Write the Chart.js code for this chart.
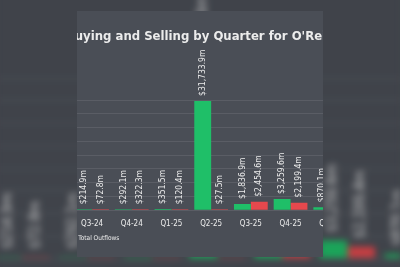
<!DOCTYPE html>
<html>
<head>
<meta charset="utf-8">
<script src="https://cdn.jsdelivr.net/npm/chart.js@4.4.1/dist/chart.umd.min.js"></script>
<style>
  html, body { margin: 0; padding: 0; }
  body { width: 400px; height: 267px; overflow: hidden; position: relative; background: #40444b; }
  .panel { position: absolute; left: 77px; top: 11px; width: 246px; height: 246px; overflow: hidden; background: #4a4e56; }
  .panel canvas { position: absolute; top: 0; }
  /* blurred, enlarged copy behind the card */
  #bg { left: -3.2px; top: -67.8px; transform-origin: 0 0; transform: scale(1.64); filter: blur(2px) brightness(0.86); }
</style>
</head>
<body>
<div class="panel" id="bg"><canvas id="bgChart"></canvas></div>
<div class="panel" id="fg"><canvas id="fgChart"></canvas></div>
<script>
// data
const quarters = ['Q3-24', 'Q4-24', 'Q1-25', 'Q2-25', 'Q3-25', 'Q4-25', 'Q1-26'];
const inflows = [214.9, 292.1, 351.5, 31733.9, 1836.9, 3259.6, 870.1];
const outflows = [72.8, 322.3, 120.4, 27.5, 2454.6, 2199.4, null];
const yMax = 32000;
const yStep = 4000;
const TITLE = "Institutional Buying and Selling by Quarter for O'Reilly Automotive";

// look
const FONT = "'DejaVu Sans Condensed', 'DejaVu Sans', sans-serif";
const GREEN = '#1fbf68';
const RED = '#e5484d';
const TEXT = '#ececec';
const GRID = 'rgba(255,255,255,0.09)';

Chart.defaults.font.family = FONT;

// page geometry of the visible card (the chart itself is wider and cropped)
const PANEL_LEFT = 77;
const PANEL_H = 246;
const AREA_LEFT = 72.2;
const AREA_RIGHT = AREA_LEFT + quarters.length * 39.7;
const pad = 4;
const legendPad = 4.4;
const legendBox = 40;
const legendSize = 6.5;
const titleSize = 13;
const tickSize = 8;
const labelSize = 8.5;

function measure(text, font) {
  const ctx = document.createElement('canvas').getContext('2d');
  ctx.font = font;
  return ctx.measureText(text).width;
}

// left axis width puts the second legend item ("Total Outflows") at the card edge
const titleFont = `bold ${titleSize}px ${FONT}`;
let yW = 2 * legendPad + 2 * legendBox + legendSize
  + measure('Total Inflows', `${legendSize}px ${FONT}`) - (78.3 - AREA_LEFT);
const canvasLeft = Math.round(AREA_LEFT - pad - yW);
yW = AREA_LEFT - pad - canvasLeft;
// title centred over the canvas, "Institutional B" hidden left of the card
const titleCenter = PANEL_LEFT - 2 - measure('Institutional B', titleFont) + measure(TITLE, titleFont) / 2;
const W = Math.round(2 * (titleCenter - canvasLeft));
const rW = Math.max(0, W - (AREA_RIGHT - AREA_LEFT) - yW - 2 * pad);

const money = v => '$' + v.toLocaleString('en-US', { minimumFractionDigits: 1, maximumFractionDigits: 1 }) + 'm';

// vertical value labels above each bar
const barLabels = {
  id: 'barLabels',
  afterDatasetsDraw(chart) {
    const { ctx } = chart;
    ctx.save();
    ctx.font = `${labelSize}px ${FONT}`;
    ctx.fillStyle = TEXT;
    ctx.textAlign = 'left';
    ctx.textBaseline = 'middle';
    chart.data.datasets.forEach((ds, i) => {
      chart.getDatasetMeta(i).data.forEach((bar, j) => {
        const v = ds.data[j];
        if (v == null) return;
        ctx.save();
        ctx.translate(bar.x, bar.y - 5);
        ctx.rotate(-Math.PI / 2);
        ctx.fillText(money(v), 0, 0);
        ctx.restore();
      });
    });
    ctx.restore();
  },
};

function buildChart(canvas) {
  canvas.width = W;
  canvas.height = PANEL_H;
  canvas.style.left = (canvasLeft - PANEL_LEFT) + 'px';
  return new Chart(canvas, {
    type: 'bar',
    data: {
      labels: quarters,
      datasets: [
        { label: 'Total Inflows', data: inflows, backgroundColor: GREEN },
        { label: 'Total Outflows', data: outflows, backgroundColor: RED },
      ],
    },
    options: {
      responsive: false,
      animation: false,
      categoryPercentage: 0.85,
      barPercentage: 1,
      minBarLength: 1,
      layout: { padding: { left: pad, right: pad, top: 0, bottom: 5.8 } },
      plugins: {
        title: {
          display: true,
          text: TITLE,
          color: TEXT,
          font: { size: titleSize, weight: 'bold' },
          padding: { top: 18.2, bottom: 55.2 },
        },
        legend: {
          position: 'bottom',
          align: 'start',
          labels: { boxWidth: legendBox, padding: legendPad, color: TEXT, font: { size: legendSize } },
        },
        tooltip: { enabled: false },
      },
      scales: {
        x: {
          grid: { display: false, drawTicks: false },
          border: { display: false },
          ticks: { color: TEXT, font: { size: tickSize }, padding: 9.2 },
          afterFit: s => { s.height = 20; },
        },
        y: {
          min: 0,
          max: yMax,
          ticks: { stepSize: yStep, autoSkip: false, color: TEXT, font: { size: tickSize }, callback: v => money(v) },
          grid: { color: GRID, drawTicks: false },
          border: { display: false },
          afterFit: s => { s.width = yW; },
        },
        yR: {
          position: 'right',
          min: 0,
          max: yMax,
          ticks: { display: false },
          grid: { display: false, drawTicks: false },
          border: { display: false },
          afterFit: s => { s.width = rW; },
        },
      },
    },
    plugins: [barLabels],
  });
}

buildChart(document.getElementById('bgChart'));
buildChart(document.getElementById('fgChart'));
</script>
</body>
</html>
